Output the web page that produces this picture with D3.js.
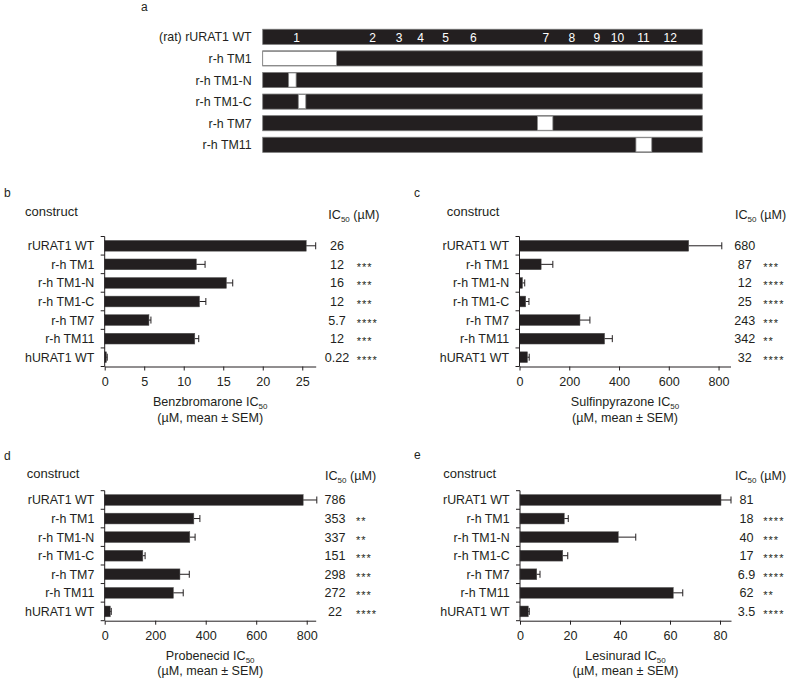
<!DOCTYPE html>
<html>
<head>
<meta charset="utf-8">
<script src="https://cdn.jsdelivr.net/npm/d3@7"></script>
<style>
  body { margin: 0; background: #fff; }
  svg { display: block; font-family: "Liberation Sans", Arial, sans-serif; }
  text { fill: #231f20; }
</style>
</head>
<body>
<svg></svg>
<script>
// panel a - chimeras, positions in % of rURAT1 sequence length
const chimeras = ["(rat) rURAT1 WT", "r-h TM1", "r-h TM1-N", "r-h TM1-C", "r-h TM7", "r-h TM11"];
const swapStart = [null, 0, 5.9, 8.1, 62.5, 84.9];
const swapEnd = [null, 16.8, 7.6, 9.8, 66.0, 88.5];
const tmNumbers = ["1", "2", "3", "4", "5", "6", "7", "8", "9", "10", "11", "12"];
const tmPos = [7.7, 25.0, 31.0, 35.9, 41.6, 47.9, 64.4, 70.3, 76.0, 80.7, 86.6, 92.7];

// panels b-e
const constructs = ["rURAT1 WT", "r-h TM1", "r-h TM1-N", "r-h TM1-C", "r-h TM7", "r-h TM11", "hURAT1 WT"];

const benzMean = [25.5, 11.6, 15.4, 12.0, 5.6, 11.4, 0.22];
const benzSem = [1.2, 1.1, 0.8, 0.8, 0.25, 0.5, 0.1];
const benzLabel = ["26", "12", "16", "12", "5.7", "12", "0.22"];
const benzSig = ["", "***", "***", "***", "****", "***", "****"];
const benzTicks = [0, 5, 10, 15, 20, 25];

const sulfMean = [680, 87, 12, 25, 243, 342, 32];
const sulfSem = [133, 47, 9, 13, 40, 31, 7];
const sulfLabel = ["680", "87", "12", "25", "243", "342", "32"];
const sulfSig = ["", "***", "****", "****", "***", "**", "****"];
const sulfTicks = [0, 200, 400, 600, 800];

const probMean = [786, 353, 337, 151, 298, 272, 22];
const probSem = [54, 24, 21, 9, 37, 39, 4];
const probLabel = ["786", "353", "337", "151", "298", "272", "22"];
const probSig = ["", "**", "**", "***", "***", "***", "****"];
const probTicks = [0, 200, 400, 600, 800];

const lesMean = [80.4, 17.7, 39.3, 17.1, 6.7, 61.3, 3.3];
const lesSem = [4, 1.6, 7, 2, 1.3, 3.8, 0.4];
const lesLabel = ["81", "18", "40", "17", "6.9", "62", "3.5"];
const lesSig = ["", "****", "***", "****", "****", "**", "****"];
const lesTicks = [0, 20, 40, 60, 80];

const svg = d3.select("svg").attr("width", 787).attr("height", 678);
const ink = "#231f20";

function ic50(sel, before, after) {
  sel.append("tspan").text(before + "IC");
  sel.append("tspan").attr("font-size", 8).attr("dy", 3).text("50");
  sel.append("tspan").attr("dy", -3).text(after);
}

// ---- panel a
const ga = svg.append("g");
ga.append("text").attr("x", 141).attr("y", 11).attr("font-size", 12).text("a");
const xa = d3.scaleLinear().domain([0, 100]).range([262.7, 702.3]);
const ya = d3.scaleBand().domain(chimeras).range([26, 155.6]).paddingInner(0.3).paddingOuter(0.15);

ga.selectAll(".lab").data(chimeras).enter().append("text")
  .attr("x", 251.7).attr("y", d => ya(d) + ya.bandwidth() / 2 + 4.5)
  .attr("text-anchor", "end").attr("font-size", 12.4).text(d => d);

ga.selectAll(".bar").data(chimeras).enter().append("rect")
  .attr("x", xa(0)).attr("y", d => ya(d)).attr("width", xa(100) - xa(0)).attr("height", ya.bandwidth())
  .attr("fill", ink).attr("stroke", "#7a7a7a").attr("stroke-width", 0.8);

ga.selectAll(".swap").data(chimeras.filter((d, i) => swapStart[i] !== null)).enter().append("rect")
  .attr("x", d => xa(swapStart[chimeras.indexOf(d)]))
  .attr("y", d => ya(d) + 0.5)
  .attr("width", d => xa(swapEnd[chimeras.indexOf(d)]) - xa(swapStart[chimeras.indexOf(d)]))
  .attr("height", ya.bandwidth() - 1)
  .attr("fill", "#fff").attr("stroke", "#888").attr("stroke-width", 0.8);

ga.selectAll(".tm").data(tmNumbers).enter().append("text")
  .attr("x", (d, i) => xa(tmPos[i])).attr("y", ya(chimeras[0]) + ya.bandwidth() / 2 + 5)
  .attr("text-anchor", "middle").attr("font-size", 12).style("fill", "#fff").text(d => d);

// ---- panels b-e
const panels = [
  { letter: "b", lx: 4, ly: 196.5, drug: "Benzbromarone", mean: benzMean, sem: benzSem, label: benzLabel, sig: benzSig, ticks: benzTicks, max: 26.7,
    left: 104.7, top: 236.5, headY: 216, icY: 218.5, constructX: 25, valX: 337, starX: 356.7, icX: 328.3, titleY: [406, 422] },
  { letter: "c", lx: 414, ly: 196.5, drug: "Sulfinpyrazone", mean: sulfMean, sem: sulfSem, label: sulfLabel, sig: sulfSig, ticks: sulfTicks, max: 848,
    left: 519.5, top: 236.5, headY: 216, icY: 218.5, constructX: 446.7, valX: 744.7, starX: 763.3, icX: 735, titleY: [406, 422] },
  { letter: "d", lx: 4, ly: 459.5, drug: "Probenecid", mean: probMean, sem: probSem, label: probLabel, sig: probSig, ticks: probTicks, max: 835.6,
    left: 104.7, top: 490.7, headY: 478, icY: 479.5, constructX: 26.7, valX: 335, starX: 356, icX: 325, titleY: [659.5, 674.5] },
  { letter: "e", lx: 414, ly: 459, drug: "Lesinurad", mean: lesMean, sem: lesSem, label: lesLabel, sig: lesSig, ticks: lesTicks, max: 84.4,
    left: 520, top: 490.7, headY: 478, icY: 479.5, constructX: 443.3, valX: 746.5, starX: 763.3, icX: 735, titleY: [659.5, 674.5] }
];

panels.forEach(p => {
  const g = svg.append("g");
  const x = d3.scaleLinear().domain([0, p.max]).range([p.left, p.left + 211]);
  const y = d3.scaleBand().domain(constructs).range([p.top, p.top + 130]).paddingInner(0.42).paddingOuter(0.21);
  const cy = d => y(d) + y.bandwidth() / 2;
  const rows = constructs.map((c, i) => ({ c, mean: p.mean[i], sem: p.sem[i], label: p.label[i], sig: p.sig[i] }));

  g.append("text").attr("x", p.lx).attr("y", p.ly).attr("font-size", 12).text(p.letter);
  g.append("text").attr("x", p.constructX).attr("y", p.headY).attr("font-size", 13).text("construct");
  g.append("text").attr("x", p.icX).attr("y", p.icY).attr("font-size", 12.6).call(ic50, "", " (\u00b5M)");

  // bars
  g.selectAll(".bar").data(rows).enter().append("rect")
    .attr("x", x(0)).attr("y", d => y(d.c))
    .attr("width", d => x(d.mean) - x(0)).attr("height", y.bandwidth())
    .attr("fill", ink).attr("stroke", "#555").attr("stroke-width", 0.5);

  // error bars
  g.selectAll(".err").data(rows).enter().append("line")
    .attr("x1", d => x(d.mean)).attr("x2", d => x(d.mean + d.sem))
    .attr("y1", d => cy(d.c)).attr("y2", d => cy(d.c))
    .attr("stroke", ink).attr("stroke-width", 1);
  g.selectAll(".cap").data(rows).enter().append("line")
    .attr("x1", d => x(d.mean + d.sem)).attr("x2", d => x(d.mean + d.sem))
    .attr("y1", d => cy(d.c) - 3.5).attr("y2", d => cy(d.c) + 3.5)
    .attr("stroke", ink).attr("stroke-width", 1);

  // y axis with ticks between categories
  g.append("line").attr("x1", x(0)).attr("x2", x(0)).attr("y1", p.top).attr("y2", p.top + 130)
    .attr("stroke", ink).attr("stroke-width", 1);
  g.selectAll(".ytick").data(d3.range(constructs.length + 1)).enter().append("line")
    .attr("x1", x(0) - 4).attr("x2", x(0))
    .attr("y1", i => p.top + i * y.step()).attr("y2", i => p.top + i * y.step())
    .attr("stroke", ink).attr("stroke-width", 1);

  g.selectAll(".cat").data(rows).enter().append("text")
    .attr("x", x(0) - 10.4).attr("y", d => cy(d.c) + 4.5)
    .attr("text-anchor", "end").attr("font-size", 12.4).text(d => d.c);

  // x axis
  const ax = g.append("g").attr("transform", `translate(0,${p.top + 130})`)
    .call(d3.axisBottom(x).tickValues(p.ticks).tickSize(4).tickSizeOuter(0).tickPadding(6.5));
  ax.select(".domain").attr("stroke", ink);
  ax.selectAll(".tick line").attr("stroke", ink);
  ax.selectAll(".tick text").attr("font-size", 12.6).attr("font-family", "Liberation Sans, Arial, sans-serif").style("fill", ink);

  // values and significance
  g.selectAll(".val").data(rows).enter().append("text")
    .attr("x", p.valX).attr("y", d => cy(d.c) + 4.5)
    .attr("text-anchor", "middle").attr("font-size", 12.6).text(d => d.label);
  g.selectAll(".sig").data(rows).enter().append("text")
    .attr("x", p.starX).attr("y", d => cy(d.c) + 6.5)
    .attr("font-size", 11).attr("letter-spacing", 1).text(d => d.sig);

  // axis title
  const mid = (x.range()[0] + x.range()[1]) / 2;
  g.append("text").attr("x", mid).attr("y", p.titleY[0]).attr("text-anchor", "middle").attr("font-size", 12.6)
    .call(ic50, p.drug + " ", "");
  g.append("text").attr("x", mid).attr("y", p.titleY[1]).attr("text-anchor", "middle").attr("font-size", 12.6)
    .text("(\u00b5M, mean \u00b1 SEM)");
});
</script>
</body>
</html>
